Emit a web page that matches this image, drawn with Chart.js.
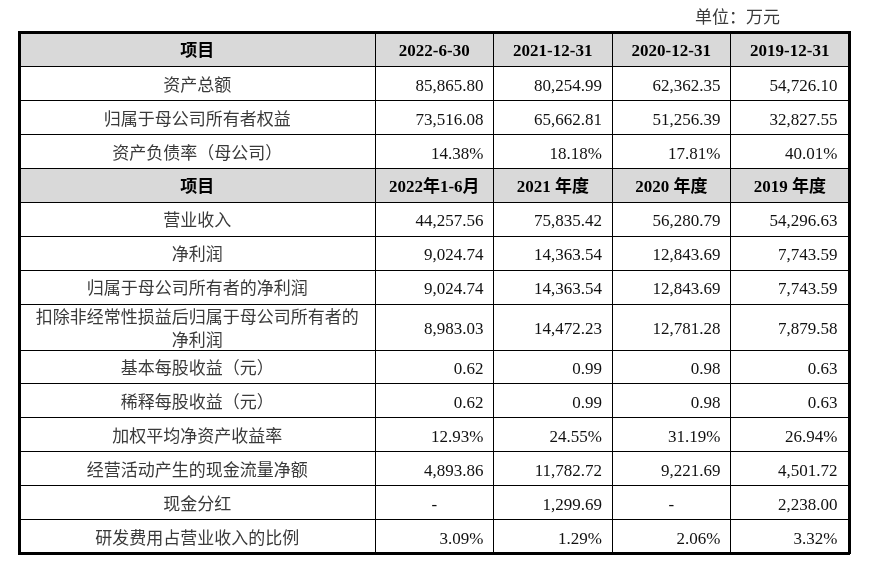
<!DOCTYPE html>
<html>
<head>
<meta charset="utf-8">
<script src="https://cdn.jsdelivr.net/npm/chart.js@4.4.0/dist/chart.umd.min.js"></script>
<style>
  html, body { margin: 0; padding: 0; background: #fff; }
  canvas { display: block; }
</style>
</head>
<body>
<canvas id="tbl" width="883" height="561"></canvas>
<script>
// ---- table data ----
const unitLabel = '单位：万元';

const balanceHeader = ['项目', '2022-6-30', '2021-12-31', '2020-12-31', '2019-12-31'];
const balanceItems = ['资产总额', '归属于母公司所有者权益', '资产负债率（母公司）'];
const totalAssets = ['85,865.80', '80,254.99', '62,362.35', '54,726.10'];
const parentEquity = ['73,516.08', '65,662.81', '51,256.39', '32,827.55'];
const debtRatio = ['14.38%', '18.18%', '17.81%', '40.01%'];

const periodHeader = ['项目', '2022年1-6月', '2021 年度', '2020 年度', '2019 年度'];
const incomeItems = [
  '营业收入',
  '净利润',
  '归属于母公司所有者的净利润',
  '扣除非经常性损益后归属于母公司所有者的\n净利润',
  '基本每股收益（元）',
  '稀释每股收益（元）',
  '加权平均净资产收益率',
  '经营活动产生的现金流量净额',
  '现金分红',
  '研发费用占营业收入的比例'
];
const revenue = ['44,257.56', '75,835.42', '56,280.79', '54,296.63'];
const netProfit = ['9,024.74', '14,363.54', '12,843.69', '7,743.59'];
const parentNetProfit = ['9,024.74', '14,363.54', '12,843.69', '7,743.59'];
const deductedNetProfit = ['8,983.03', '14,472.23', '12,781.28', '7,879.58'];
const basicEps = ['0.62', '0.99', '0.98', '0.63'];
const dilutedEps = ['0.62', '0.99', '0.98', '0.63'];
const weightedRoe = ['12.93%', '24.55%', '31.19%', '26.94%'];
const operatingCash = ['4,893.86', '11,782.72', '9,221.69', '4,501.72'];
const cashDividend = ['-', '1,299.69', '-', '2,238.00'];
const rdRatio = ['3.09%', '1.29%', '2.06%', '3.32%'];

// ---- build rows / grid edges (in scale units) ----
const rows = [];
rows.push({ cells: balanceHeader, header: true });
[totalAssets, parentEquity, debtRatio].forEach((v, i) => rows.push({ cells: [balanceItems[i], ...v] }));
rows.push({ cells: periodHeader, header: true });
[revenue, netProfit, parentNetProfit, deductedNetProfit, basicEps, dilutedEps,
 weightedRoe, operatingCash, cashDividend, rdRatio]
  .forEach((v, i) => rows.push({ cells: [incomeItems[i], ...v] }));

const colWidths = [3, 1, 1, 1, 1];
const colEdges = [0];
colWidths.forEach(w => colEdges.push(colEdges[colEdges.length - 1] + w));

const rowEdges = [0];
rows.forEach((r, i) => {
  r.h = r.cells[0].includes('\n') ? 1.35 : (i === 0 ? 1.03 : 1);
  r.start = rowEdges[rowEdges.length - 1];
  rowEdges.push(r.start + r.h);
});

const FONT_STACK = '"Liberation Serif", "Noto Sans CJK SC", serif';

// fills header rows before the grid is drawn, writes the texts after
const tablePlugin = {
  id: 'tablePlugin',
  beforeDraw(chart) {
    const { ctx, scales: { x, y } } = chart;
    ctx.save();
    ctx.fillStyle = '#fff';
    ctx.fillRect(0, 0, chart.width, chart.height);
    ctx.fillStyle = '#d9d9d9';
    rows.filter(r => r.header).forEach(r => {
      const top = y.getPixelForValue(r.start);
      const bot = y.getPixelForValue(r.start + r.h);
      const left = x.getPixelForValue(0);
      const right = x.getPixelForValue(colEdges[colEdges.length - 1]);
      ctx.fillRect(left, top, right - left, bot - top);
    });
    ctx.restore();
  },
  afterDraw(chart) {
    const { ctx, scales: { x, y } } = chart;
    ctx.save();
    ctx.textBaseline = 'middle';

    // unit label above the table
    ctx.font = '17px ' + FONT_STACK;
    ctx.fillStyle = '#3a3a3a';
    ctx.textAlign = 'right';
    ctx.fillText(unitLabel, 780, 19);

    rows.forEach(r => {
      const cy = y.getPixelForValue(r.start + r.h / 2) + 2.5;
      r.cells.forEach((txt, c) => {
        const x0 = x.getPixelForValue(colEdges[c]);
        const x1 = x.getPixelForValue(colEdges[c + 1]);
        ctx.font = (r.header ? 'bold ' : '') + '17px ' + FONT_STACK;
        ctx.fillStyle = r.header ? '#000' : (c === 0 ? '#3a3a3a' : '#111');
        if (r.header || c === 0 || txt === '-') {
          ctx.textAlign = 'center';
          const lines = txt.split('\n');
          const lh = 23;
          lines.forEach((ln, k) => {
            ctx.fillText(ln, (x0 + x1) / 2, cy + (k - (lines.length - 1) / 2) * lh);
          });
        } else {
          ctx.textAlign = 'right';
          const pad = c === r.cells.length - 1 ? 11.5 : 10;
          ctx.fillText(txt, x1 - pad, cy);
        }
      });
    });
    ctx.restore();
  }
};

const gridLine = { color: '#000', lineWidth: 1, drawTicks: false };
const thick = { display: true, width: 3, color: '#000' };

new Chart(document.getElementById('tbl'), {
  type: 'scatter',
  data: { datasets: [] },
  options: {
    responsive: false,
    animation: false,
    events: [],
    layout: { padding: { left: 19.5, right: 34, top: 32, bottom: 7.5 } },
    plugins: { legend: { display: false }, tooltip: { enabled: false } },
    scales: {
      x: {
        type: 'linear', position: 'bottom', min: 0, max: colEdges[colEdges.length - 1],
        ticks: { display: false }, grid: gridLine, border: thick,
        afterBuildTicks: s => { s.ticks = colEdges.map(v => ({ value: v })); }
      },
      x2: {
        type: 'linear', position: 'top', min: 0, max: colEdges[colEdges.length - 1],
        ticks: { display: false }, grid: { display: false, drawTicks: false }, border: thick
      },
      y: {
        type: 'linear', position: 'left', reverse: true, min: 0, max: rowEdges[rowEdges.length - 1],
        ticks: { display: false }, grid: gridLine, border: thick,
        afterBuildTicks: s => { s.ticks = rowEdges.map(v => ({ value: v })); }
      },
      y2: {
        type: 'linear', position: 'right', min: 0, max: rowEdges[rowEdges.length - 1],
        ticks: { display: false }, grid: { display: false, drawTicks: false }, border: thick
      }
    }
  },
  plugins: [tablePlugin]
});
</script>
</body>
</html>
